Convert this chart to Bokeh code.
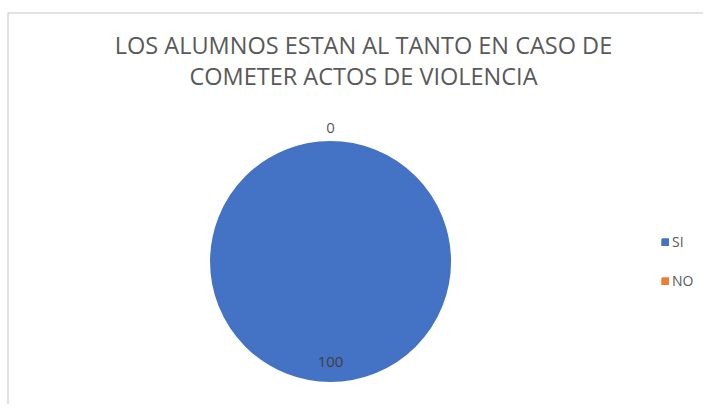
import math
from bokeh.plotting import figure
from bokeh.models import ColumnDataSource, Range1d, Legend, LegendItem
from bokeh.core.properties import value
from bokeh.embed import file_html
from bokeh.resources import INLINE

title_lines = ["LOS ALUMNOS ESTAN AL TANTO EN CASO DE", "COMETER ACTOS DE VIOLENCIA"]
categories = ["SI", "NO"]
values = [100, 0]
colors = ["#4472C4", "#ED7D31"]

W, H = 703, 404
p = figure(width=W, height=H, output_backend="svg", toolbar_location=None,
           x_range=Range1d(0, W), y_range=Range1d(0, H), min_border=0)
p.axis.visible = False
p.grid.visible = False
p.outline_line_color = None
p.background_fill_color = "white"
p.border_fill_color = "white"

# chart frame (decorative)
p.line(x=[7.5, 7.5, W + 5], y=[-5, H - 12.5, H - 12.5], line_color="#d9d9d9", line_width=1.5)

cx, cy, r = 330, H - 261, 119.5
total = sum(values)
starts, ends, mids = [], [], []
cum = 0
for v in values:
    s = math.pi / 2 - cum / total * 2 * math.pi
    cum += v
    e = math.pi / 2 - cum / total * 2 * math.pi
    starts.append(s)
    ends.append(e)
    mids.append((s + e) / 2)

# each slice is drawn as two halves (a single full-turn wedge would vanish)
renderers = {}
for i in range(len(values)):
    src = ColumnDataSource(dict(start=[starts[i], mids[i]], end=[mids[i], ends[i]]))
    renderers[i] = p.wedge(x=cx, y=cy, radius=r, start_angle="start", end_angle="end",
                           direction="clock", fill_color=colors[i], line_color=colors[i],
                           line_width=2, source=src, visible=values[i] > 0)

# data labels: inside for big slices, outside for empty ones
lx, ly, ltxt, lcol = [], [], [], []
for v, m in zip(values, mids):
    rr = r * (0.84 if v > 0 else 1.12)
    lx.append(cx + rr * math.cos(m))
    ly.append(cy + rr * math.sin(m))
    ltxt.append(str(v))
    lcol.append("#404040" if v > 0 else "#595959")
p.text(x=lx, y=ly, text=ltxt, text_color=lcol, text_align="center", text_baseline="middle",
       text_font=value("Open Sans"), text_font_size="15px")

# title
p.text(x=[363, 363], y=[H - 44, H - 75], text=title_lines, text_color="#595959",
       text_align="center", text_baseline="middle", text_font=value("Open Sans"),
       text_font_size="23.5px")

items = [LegendItem(label=categories[i], renderers=[renderers[i]]) for i in range(len(categories))]
legend = Legend(items=items, location=(661, 114), glyph_width=8, glyph_height=8,
                label_text_font="Open Sans", label_text_font_size="14px",
                label_text_color="#595959", label_standoff=3, label_height=17,
                spacing=20, padding=0, margin=0, border_line_color=None,
                background_fill_alpha=0, inactive_fill_alpha=0)
p.add_layout(legend, "center")

open("out.html", "w").write(file_html(p, INLINE))
